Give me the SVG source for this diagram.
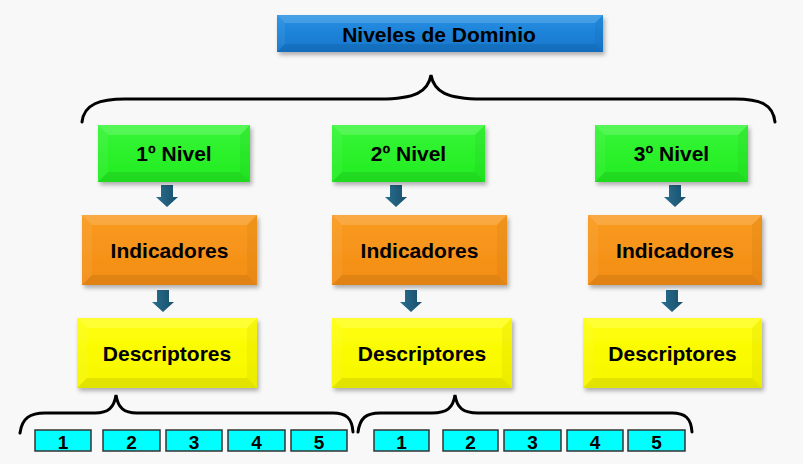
<svg xmlns="http://www.w3.org/2000/svg" width="803" height="464" viewBox="0 0 803 464">
<defs>
<filter id="sh" x="-10%" y="-20%" width="130%" height="150%">
<feDropShadow dx="2" dy="3" stdDeviation="2" flood-color="#000" flood-opacity="0.3"/>
</filter>
<linearGradient id="gBlue" x1="0" y1="0" x2="0" y2="1"><stop offset="0" stop-color="#2590e4"/><stop offset="1" stop-color="#1676cc"/></linearGradient>
<linearGradient id="gGreen" x1="0" y1="0" x2="0" y2="1"><stop offset="0" stop-color="#36f636"/><stop offset="1" stop-color="#22ec22"/></linearGradient>
<linearGradient id="gOrange" x1="0" y1="0" x2="0" y2="1"><stop offset="0" stop-color="#f99a20"/><stop offset="1" stop-color="#f38e14"/></linearGradient>
<linearGradient id="gYellow" x1="0" y1="0" x2="0" y2="1"><stop offset="0" stop-color="#ffff0a"/><stop offset="1" stop-color="#f6f600"/></linearGradient>
<linearGradient id="gArrow" x1="0" y1="0" x2="1" y2="0"><stop offset="0" stop-color="#2a6f8f"/><stop offset="1" stop-color="#174f6a"/></linearGradient>
<path id="arr" d="M-6,0 H6 V12 H11 L0,22 L-11,12 H-6 Z"/>
<style>
.t{font-family:"Liberation Sans",Arial,sans-serif;font-weight:bold;font-size:21px;fill:#000;text-anchor:middle}
.n{font-family:"Liberation Sans",Arial,sans-serif;font-weight:bold;font-size:19px;fill:#000;text-anchor:middle}
.bt{fill:#fff;fill-opacity:0.16}
.bl{fill:#fff;fill-opacity:0.06}
.br{fill:#000;fill-opacity:0.04}
.bb{fill:#000;fill-opacity:0.08}
.nb{fill:#00ffff;stroke:#333;stroke-width:1.5}
.brace{fill:none;stroke:#000;stroke-width:3;stroke-linecap:round}
.ar{fill:url(#gArrow)}
</style>
</defs>
<rect x="0" y="0" width="803" height="464" fill="#f8f8f8"/>

<g id="connectors">
<path class="brace" d="M82,122 C84,104 100,99 125,99 L380,99 C415,99 428,92 431,75 C434,92 447,99 482,99 L735,99 C760,99 773,104 775,122"/>
<path class="brace" d="M20,433 C22,418 30,413 45,413 L95,413 C108,413 114,408 116,395 C118,408 124,413 137,413 L333,413 C346,413 352,418 353,432"/>
<path class="brace" d="M358,432 C360,418 366,413 380,413 L432,413 C447,413 453,408 455,395 C457,408 463,413 478,413 L672,413 C685,413 691,418 692,432"/>
<use href="#arr" class="ar" x="167" y="185"/>
<use href="#arr" class="ar" x="396" y="185"/>
<use href="#arr" class="ar" x="675" y="185"/>
<use href="#arr" class="ar" x="163" y="290"/>
<use href="#arr" class="ar" x="411" y="290"/>
<use href="#arr" class="ar" x="672" y="290"/>
</g>

<g id="title">
<rect x="277" y="15" width="326" height="37" fill="url(#gBlue)" filter="url(#sh)"/>
<polygon class="bt" points="277,15 603,15 595,23 285,23"/>
<polygon class="bl" points="277,15 285,23 285,44 277,52"/>
<polygon class="br" points="603,15 603,52 595,44 595,23"/>
<polygon class="bb" points="277,52 285,44 595,44 603,52"/>
<text class="t" x="439" y="42">Niveles de Dominio</text>
</g>

<g id="nivel1">
<rect x="98" y="125" width="152" height="57" fill="url(#gGreen)" filter="url(#sh)"/>
<polygon class="bt" points="98,125 250,125 240,135 108,135"/>
<polygon class="bl" points="98,125 108,135 108,172 98,182"/>
<polygon class="br" points="250,125 250,182 240,172 240,135"/>
<polygon class="bb" points="98,182 108,172 240,172 250,182"/>
<text class="t" x="174" y="161">1º Nivel</text>
</g>
<g id="nivel2">
<rect x="332" y="125" width="153" height="57" fill="url(#gGreen)" filter="url(#sh)"/>
<polygon class="bt" points="332,125 485,125 475,135 342,135"/>
<polygon class="bl" points="332,125 342,135 342,172 332,182"/>
<polygon class="br" points="485,125 485,182 475,172 475,135"/>
<polygon class="bb" points="332,182 342,172 475,172 485,182"/>
<text class="t" x="408.5" y="161">2º Nivel</text>
</g>
<g id="nivel3">
<rect x="595" y="125" width="153" height="57" fill="url(#gGreen)" filter="url(#sh)"/>
<polygon class="bt" points="595,125 748,125 738,135 605,135"/>
<polygon class="bl" points="595,125 605,135 605,172 595,182"/>
<polygon class="br" points="748,125 748,182 738,172 738,135"/>
<polygon class="bb" points="595,182 605,172 738,172 748,182"/>
<text class="t" x="671.5" y="161">3º Nivel</text>
</g>

<g id="indicadores1">
<rect x="82" y="215" width="175" height="70" fill="url(#gOrange)" filter="url(#sh)"/>
<polygon class="bt" points="82,215 257,215 247,225 92,225"/>
<polygon class="bl" points="82,215 92,225 92,275 82,285"/>
<polygon class="br" points="257,215 257,285 247,275 247,225"/>
<polygon class="bb" points="82,285 92,275 247,275 257,285"/>
<text class="t" x="169.5" y="257.5">Indicadores</text>
</g>
<g id="indicadores2">
<rect x="332" y="215" width="175" height="70" fill="url(#gOrange)" filter="url(#sh)"/>
<polygon class="bt" points="332,215 507,215 497,225 342,225"/>
<polygon class="bl" points="332,215 342,225 342,275 332,285"/>
<polygon class="br" points="507,215 507,285 497,275 497,225"/>
<polygon class="bb" points="332,285 342,275 497,275 507,285"/>
<text class="t" x="419.5" y="257.5">Indicadores</text>
</g>
<g id="indicadores3">
<rect x="588" y="215" width="174" height="70" fill="url(#gOrange)" filter="url(#sh)"/>
<polygon class="bt" points="588,215 762,215 752,225 598,225"/>
<polygon class="bl" points="588,215 598,225 598,275 588,285"/>
<polygon class="br" points="762,215 762,285 752,275 752,225"/>
<polygon class="bb" points="588,285 598,275 752,275 762,285"/>
<text class="t" x="675" y="257.5">Indicadores</text>
</g>

<g id="descriptores1">
<rect x="77" y="318" width="180" height="70" fill="url(#gYellow)" filter="url(#sh)"/>
<polygon class="bt" points="77,318 257,318 247,328 87,328"/>
<polygon class="bl" points="77,318 87,328 87,378 77,388"/>
<polygon class="br" points="257,318 257,388 247,378 247,328"/>
<polygon class="bb" points="77,388 87,378 247,378 257,388"/>
<text class="t" x="167" y="361">Descriptores</text>
</g>
<g id="descriptores2">
<rect x="332" y="318" width="180" height="70" fill="url(#gYellow)" filter="url(#sh)"/>
<polygon class="bt" points="332,318 512,318 502,328 342,328"/>
<polygon class="bl" points="332,318 342,328 342,378 332,388"/>
<polygon class="br" points="512,318 512,388 502,378 502,328"/>
<polygon class="bb" points="332,388 342,378 502,378 512,388"/>
<text class="t" x="422" y="361">Descriptores</text>
</g>
<g id="descriptores3">
<rect x="583" y="318" width="179" height="70" fill="url(#gYellow)" filter="url(#sh)"/>
<polygon class="bt" points="583,318 762,318 752,328 593,328"/>
<polygon class="bl" points="583,318 593,328 593,378 583,388"/>
<polygon class="br" points="762,318 762,388 752,378 752,328"/>
<polygon class="bb" points="583,388 593,378 752,378 762,388"/>
<text class="t" x="672.5" y="361">Descriptores</text>
</g>

<g id="a1"><rect class="nb" x="35" y="430" width="56" height="21"/><text class="n" x="63" y="448.5">1</text></g>
<g id="a2"><rect class="nb" x="103" y="430" width="57" height="21"/><text class="n" x="131.5" y="448.5">2</text></g>
<g id="a3"><rect class="nb" x="166" y="430" width="56" height="21"/><text class="n" x="194" y="448.5">3</text></g>
<g id="a4"><rect class="nb" x="228" y="430" width="57" height="21"/><text class="n" x="256.5" y="448.5">4</text></g>
<g id="a5"><rect class="nb" x="291" y="430" width="56" height="21"/><text class="n" x="319" y="448.5">5</text></g>
<g id="b1"><rect class="nb" x="374" y="430" width="55" height="21"/><text class="n" x="401.5" y="448.5">1</text></g>
<g id="b2"><rect class="nb" x="443" y="430" width="55" height="21"/><text class="n" x="470.5" y="448.5">2</text></g>
<g id="b3"><rect class="nb" x="504" y="430" width="57" height="21"/><text class="n" x="532.5" y="448.5">3</text></g>
<g id="b4"><rect class="nb" x="567" y="430" width="56" height="21"/><text class="n" x="595" y="448.5">4</text></g>
<g id="b5"><rect class="nb" x="628" y="430" width="57" height="21"/><text class="n" x="656.5" y="448.5">5</text></g>
</svg>
